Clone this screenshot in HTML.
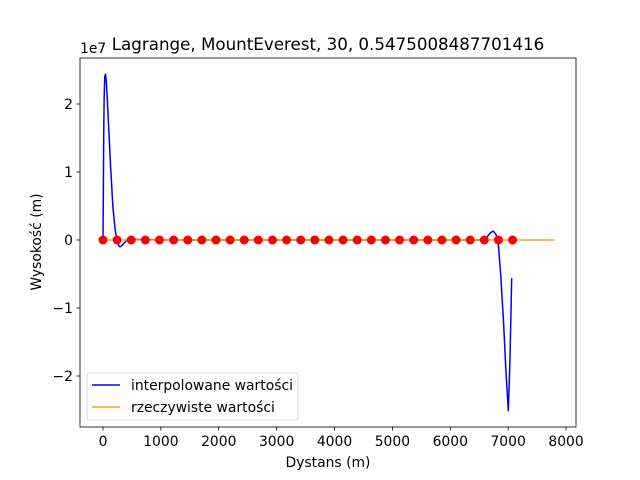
<!DOCTYPE html>
<html><head><meta charset="utf-8"><style>
body{margin:0;background:#fff}
svg{display:block;font-family:"DejaVu Sans","Liberation Sans",sans-serif}
</style></head><body>
<svg id="chart" width="640" height="480" xmlns="http://www.w3.org/2000/svg">
<rect width="640" height="480" fill="#fff"/>
<g id="plot"></g>
</svg>
<script>
const blueX=[0,5,12,20,30,43,60,90,130,170,210,242,270,294,340,415,500,1000,2000,3000,4000,5000,6000,6500,6620,6700,6745,6790,6825,6870,6920,6960,7003,7030,7061];
const blueY=[0,0.6e7,1.5e7,2.1e7,2.4e7,2.44e7,2.3e7,1.8e7,1.1e7,0.5e7,0.15e7,0,-0.08e7,-0.1e7,-0.07e7,0,0.01e7,0,0,0,0,0,0,0,0.03e7,0.11e7,0.13e7,0.08e7,0,-0.5e7,-1.2e7,-1.9e7,-2.51e7,-1.8e7,-0.56e7];
const orangeX=[0,1000,2000,3000,4000,5000,6000,7000,7800];
const orangeY=[0,0,0,0,0,0,0,0,0];
const redX=[0,244,488,732,976,1220,1464,1708,1952,2196,2440,2684,2928,3172,3416,3660,3904,4148,4392,4636,4880,5124,5368,5612,5856,6100,6344,6588,6832,7076];
const redY=[0,0,0,0,0,0,0,0,0,0,0,0,0,0,0,0,0,0,0,0,0,0,0,0,0,0,0,0,0,0];
const xTicks=[0,1000,2000,3000,4000,5000,6000,7000,8000];
const yTicks=[-2,-1,0,1,2];
const L=80,R=576,T=58,B=427;
const X=v=>103+v*0.05788;
const Y=v=>240-v/1e7*68;
const NS="http://www.w3.org/2000/svg";
const g=document.getElementById('plot');
function mk(t,a,p){const e=document.createElementNS(NS,t);for(const k in a)e.setAttribute(k,a[k]);(p||g).appendChild(e);return e;}
function pts(xs,ys){return xs.map((x,i)=>X(x).toFixed(2)+','+Y(ys[i]).toFixed(2)).join(' ');}
let bl=mk('polyline',{points:pts(blueX,blueY),fill:'none',stroke:'#0000ff','stroke-width':1.5,'stroke-linejoin':'round'});


let ol=mk('polyline',{points:pts(orangeX,orangeY),fill:'none',stroke:'#ffa500','stroke-width':1.5});


redX.forEach((x,i)=>{const c=mk('circle',{cx:X(x),cy:Y(redY[i]),r:4.5,fill:'#ff0000'});

});
let fr=mk('rect',{x:L,y:T,width:R-L,height:B-T,fill:'none',stroke:'#000','stroke-width':0.8});


xTicks.forEach(v=>{const x=X(v);mk('line',{x1:x,x2:x,y1:B,y2:B+3.5,stroke:'#000','stroke-width':0.8});
const t=mk('text',{x:x,y:B+19,'text-anchor':'middle','font-size':13.9});t.textContent=v;

});
yTicks.forEach(v=>{const y=Y(v*1e7);mk('line',{x1:L-3.5,x2:L,y1:y,y2:y,stroke:'#000','stroke-width':0.8});
const t=mk('text',{x:L-7,y:y+5,'text-anchor':'end','font-size':13.9});t.textContent=v<0?'\u2212'+(-v):v;

});
function txt(s,a,n){const t=mk('text',a);t.textContent=s;return t;}
txt('1e7',{x:80,y:53,'font-size':13.9},'y-offset-label');
txt('Lagrange, MountEverest, 30, 0.5475008487701416',{x:328,y:50,'text-anchor':'middle','font-size':16.7},'chart-title');
txt('Dystans (m)',{x:328,y:467,'text-anchor':'middle','font-size':13.9},'x-axis-title');
txt('Wysokość (m)',{x:0,y:0,'text-anchor':'middle','font-size':13.9,transform:'translate(41,242) rotate(-90)'},'y-axis-title');
const lg=mk('g',{});


mk('rect',{x:87,y:373,width:211,height:47,rx:2,fill:'#fff','fill-opacity':0.8,stroke:'#ccc','stroke-width':0.8},lg);
mk('line',{x1:92,x2:120,y1:385,y2:385,stroke:'#0000ff','stroke-width':1.5},lg);
mk('line',{x1:92,x2:120,y1:407,y2:407,stroke:'#ffa500','stroke-width':1.5},lg);
let a=mk('text',{x:131,y:390,'font-size':13.9},lg);a.textContent='interpolowane wartości';


let b=mk('text',{x:131,y:412,'font-size':13.9},lg);b.textContent='rzeczywiste wartości';


</script>
</body></html>
